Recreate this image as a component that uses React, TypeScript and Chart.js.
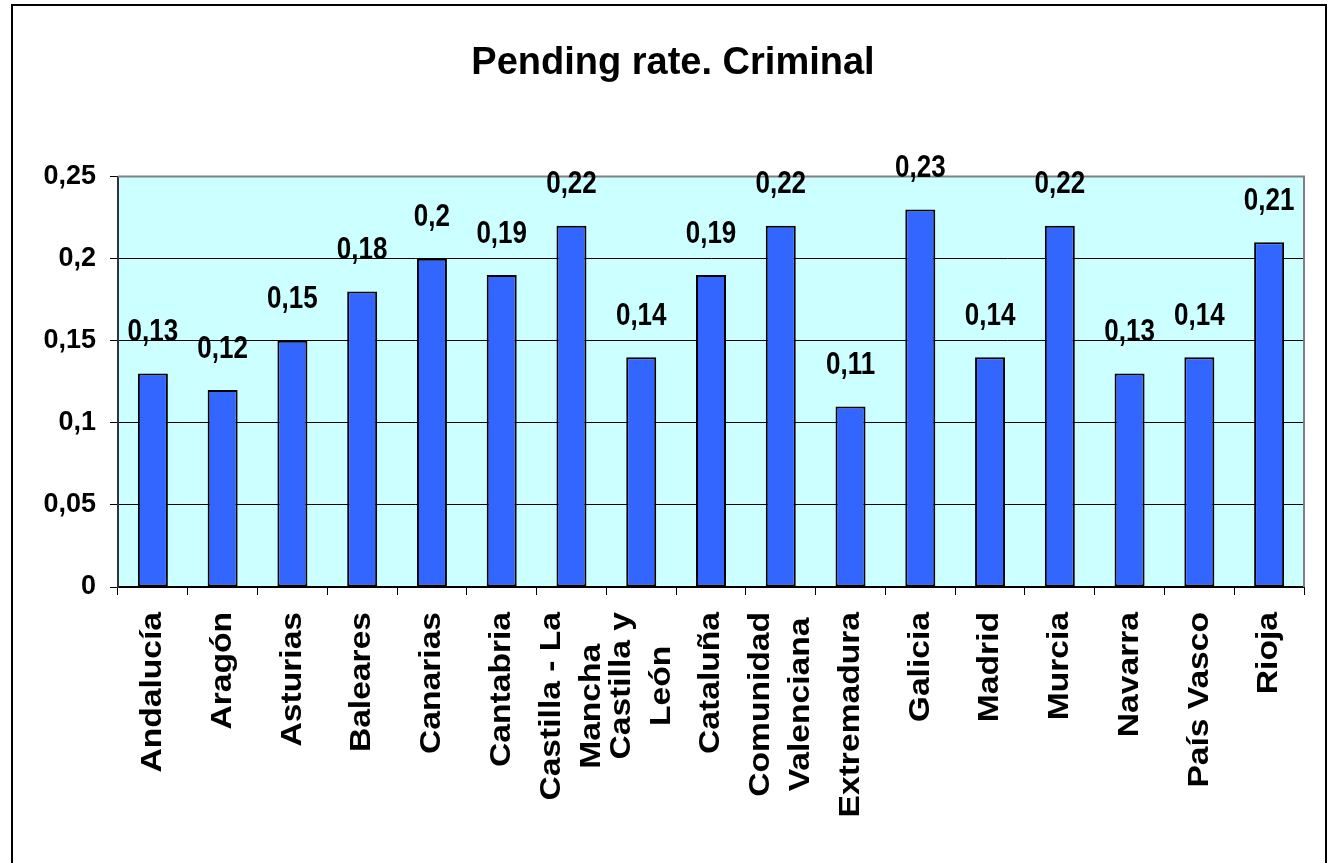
import React, { useEffect, useRef } from 'react';
import { Chart, registerables } from 'chart.js';

Chart.register(...registerables);

const chartTitle = 'Pending rate. Criminal';

const categoryLines: string[][] = [
  ['Andalucía'],
  ['Aragón'],
  ['Asturias'],
  ['Baleares'],
  ['Canarias'],
  ['Cantabria'],
  ['Castilla - La', 'Mancha'],
  ['Castilla y', 'León'],
  ['Cataluña'],
  ['Comunidad', 'Valenciana'],
  ['Extremadura'],
  ['Galicia'],
  ['Madrid'],
  ['Murcia'],
  ['Navarra'],
  ['País Vasco'],
  ['Rioja'],
];

const pendingRate: number[] = [
  0.13, 0.12, 0.15, 0.18, 0.2, 0.19, 0.22, 0.14, 0.19, 0.22, 0.11, 0.23, 0.14, 0.22, 0.13, 0.14, 0.21,
];

const yTickLabels: string[] = ['0', '0,05', '0,1', '0,15', '0,2', '0,25'];

const FONT = '"Liberation Sans", Arial, sans-serif';

const fmt = (v: number) => String(v).replace('.', ',');

const decorPlugin = {
  id: 'decor',
  beforeDraw(chart: any) {
    const { ctx, chartArea } = chart;
    ctx.save();
    ctx.fillStyle = '#ffffff';
    ctx.fillRect(0, 0, chart.width, chart.height);
    ctx.fillStyle = '#CCFFFF';
    ctx.fillRect(chartArea.left, chartArea.top, chartArea.right - chartArea.left, chartArea.bottom - chartArea.top);
    ctx.restore();
  },
  afterDraw(chart: any) {
    const { ctx, chartArea } = chart;
    ctx.save();
    // plot area top/right border (grey)
    ctx.strokeStyle = '#808080';
    ctx.lineWidth = 2;
    ctx.beginPath();
    ctx.moveTo(chartArea.left, chartArea.top);
    ctx.lineTo(chartArea.right, chartArea.top);
    ctx.lineTo(chartArea.right, chartArea.bottom);
    ctx.stroke();

    // data labels (slightly tall glyphs like the original)
    const meta = chart.getDatasetMeta(0);
    ctx.fillStyle = '#000';
    ctx.font = `bold 26px ${FONT}`;
    ctx.textAlign = 'center';
    ctx.textBaseline = 'middle';
    meta.data.forEach((bar: any, i: number) => {
      const v = chart.data.datasets[0].data[i];
      ctx.save();
      ctx.translate(bar.x, bar.y - 41);
      ctx.scale(1, 1.2);
      ctx.fillText(fmt(v), 0, 0);
      ctx.restore();
    });

    // x category labels (rotated, multi-line centred)
    const xScale = chart.scales.x;
    ctx.font = `bold 30px ${FONT}`;
    const top = chartArea.bottom + 25;
    const lineGap = 40;
    const stretch = 1.12;
    (chart.data.labels as string[][]).forEach((lines, i) => {
      const x = xScale.getPixelForValue(i);
      const widths = lines.map((l) => ctx.measureText(l).width);
      const block = Math.max(...widths);
      ctx.save();
      ctx.translate(x, top);
      ctx.rotate(-Math.PI / 2);
      ctx.scale(stretch, 1);
      ctx.textAlign = 'center';
      ctx.textBaseline = 'middle';
      lines.forEach((line, j) => {
        const off = (j - (lines.length - 1) / 2) * lineGap;
        ctx.fillText(line, -block / 2, off);
      });
      ctx.restore();
    });

    // outer chart border
    ctx.strokeStyle = '#000';
    ctx.lineWidth = 2;
    ctx.strokeRect(12, 5, 1314, 900);
    ctx.restore();
  },
};

export default function App() {
  const canvasRef = useRef<HTMLCanvasElement | null>(null);

  useEffect(() => {
    if (!canvasRef.current) return;
    const chart = new Chart(canvasRef.current, {
      type: 'bar',
      data: {
        labels: categoryLines,
        datasets: [
          {
            data: pendingRate,
            backgroundColor: '#3366FF',
            borderColor: '#000000',
            borderWidth: 2,
            borderSkipped: false,
            categoryPercentage: 1,
            barPercentage: 0.43,
          },
        ],
      },
      options: {
        animation: false,
        responsive: true,
        maintainAspectRatio: false,
        layout: { padding: { left: 42, right: 25, top: 0, bottom: 0 } },
        plugins: {
          legend: { display: false },
          tooltip: { enabled: false },
          title: {
            display: true,
            text: chartTitle,
            color: '#000',
            font: { family: FONT, size: 38, weight: 'bold' },
            padding: { top: 41, bottom: 90 },
          },
        },
        scales: {
          x: {
            type: 'category',
            offset: true,
            grid: {
              display: true,
              drawOnChartArea: false,
              drawTicks: true,
              tickLength: 8,
              color: '#000',
              offset: true,
            },
            border: { display: true, color: '#000', width: 2 },
            ticks: { display: false },
            afterFit: (s: any) => {
              s.height = 276;
            },
          },
          y: {
            min: 0,
            max: 0.25,
            grid: { color: '#000', lineWidth: 1, tickLength: 8, drawTicks: true },
            border: { display: true, color: '#333', width: 2 },
            ticks: {
              stepSize: 0.05,
              padding: 14,
              color: '#000',
              font: { family: FONT, size: 27, weight: 'bold' },
              callback: (v: any, i: number) => yTickLabels[i] ?? fmt(v),
            },
            afterFit: (s: any) => {
              s.width = 76;
            },
          },
        },
      },
      plugins: [decorPlugin],
    } as any);
    return () => chart.destroy();
  }, []);

  return (
    <div style={{ position: 'fixed', left: 0, top: 0, width: 1329, height: 863, background: '#fff' }}>
      <canvas ref={canvasRef} />
    </div>
  );
}
